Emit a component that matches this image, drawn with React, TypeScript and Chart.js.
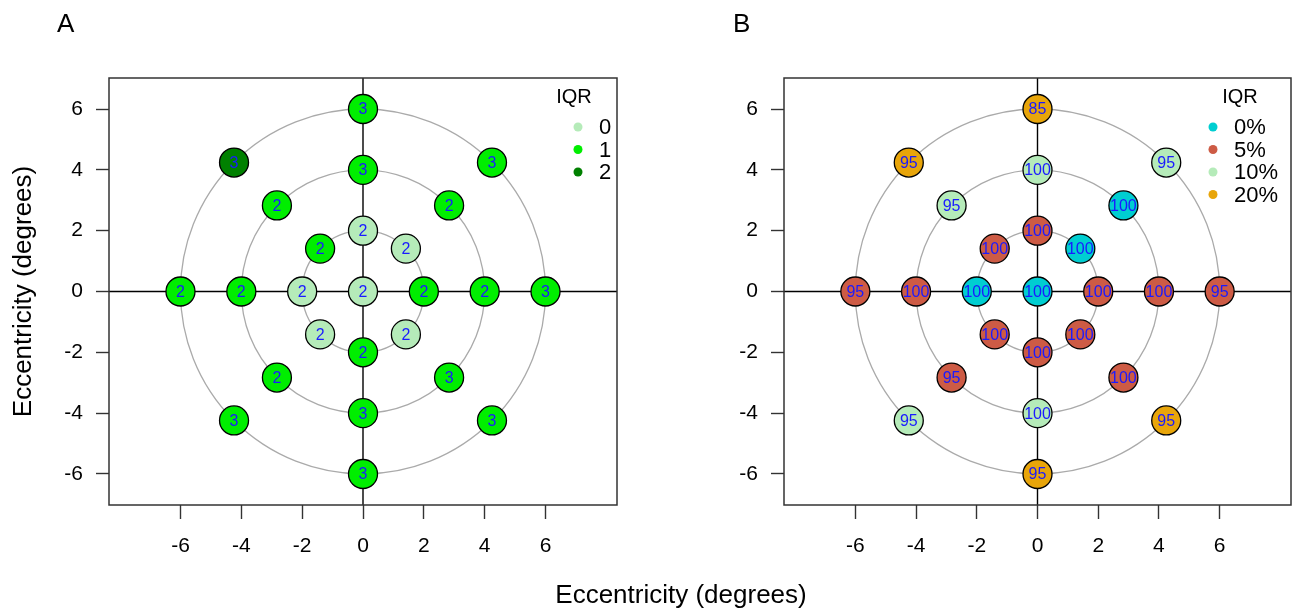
import React, { useEffect, useRef } from "react";
import { Chart, registerables } from "chart.js";
Chart.register(...registerables);

const FONT = "'Liberation Sans', Arial, Helvetica, sans-serif";

// Test locations (degrees): centre, then rings at 2, 4 and 6 degrees
const posX = [0, 0, 1.41, 2, 1.41, 0, -1.41, -2, -1.41, 0, 2.83, 4, 2.83, 0, -2.83, -4, -2.83, 0, 4.24, 6, 4.24, 0, -4.24, -6, -4.24];
const posY = [0, 2, 1.41, 0, -1.41, -2, -1.41, 0, 1.41, 4, 2.83, 0, -2.83, -4, -2.83, 0, 2.83, 6, 4.24, 0, -4.24, -6, -4.24, 0, 4.24];
const ringRadii = [2, 4, 6];
const tickValues = [-6, -4, -2, 0, 2, 4, 6];

// Panel A
const iqrLabelsA = ["0", "1", "2"];
const iqrColorsA = ["#b5ebb9", "#00ee00", "#008000"];
const iqrA = [0, 0, 0, 1, 0, 1, 0, 0, 1, 1, 1, 1, 1, 1, 1, 1, 1, 1, 1, 1, 1, 1, 1, 1, 2];
const valuesA = [2, 2, 2, 2, 2, 2, 2, 2, 2, 3, 2, 2, 3, 3, 2, 2, 2, 3, 3, 3, 3, 3, 3, 2, 3];

// Panel B
const iqrLabelsB = ["0%", "5%", "10%", "20%"];
const iqrColorsB = ["#00ced1", "#cd5b45", "#b5ebb9", "#e8a50a"];
const iqrB = [0, 1, 0, 1, 1, 1, 1, 0, 1, 2, 0, 1, 1, 2, 1, 1, 2, 3, 2, 1, 3, 3, 2, 1, 3];
const valuesB = [100, 100, 100, 100, 100, 100, 100, 100, 100, 100, 100, 100, 100, 100, 95, 100, 95, 85, 95, 95, 95, 95, 95, 95, 95];

type PanelProps = {
  iqr: number[];
  values: number[];
  labels: string[];
  colors: string[];
  yAxisWidth: number;
  padRight: number;
  showYTitle: boolean;
  legendDotOffset: number;
  legendTitleOffset: number;
};

function Panel({ iqr, values, labels, colors, yAxisWidth, padRight, showYTitle, legendDotOffset, legendTitleOffset }: PanelProps) {
  const ref = useRef<HTMLCanvasElement | null>(null);
  useEffect(() => {
    if (!ref.current) return;
    const decor = {
      id: "decor",
      beforeDatasetsDraw(chart: any) {
        const { ctx, chartArea } = chart;
        const xs = chart.scales.x;
        const ys = chart.scales.y;
        const cx = xs.getPixelForValue(0);
        const cy = ys.getPixelForValue(0);
        ctx.save();
        ctx.strokeStyle = "#aaaaaa";
        ctx.lineWidth = 1.3;
        ringRadii.forEach((r) => {
          const rx = Math.abs(xs.getPixelForValue(r) - cx);
          const ry = Math.abs(ys.getPixelForValue(r) - cy);
          ctx.beginPath();
          ctx.ellipse(cx, cy, rx, ry, 0, 0, Math.PI * 2);
          ctx.stroke();
        });
        ctx.strokeStyle = "#000";
        ctx.lineWidth = 1.4;
        ctx.beginPath();
        ctx.moveTo(cx, chartArea.top);
        ctx.lineTo(cx, chartArea.bottom);
        ctx.moveTo(chartArea.left, cy);
        ctx.lineTo(chartArea.right, cy);
        ctx.stroke();
        ctx.strokeStyle = "#333";
        ctx.lineWidth = 1.5;
        ctx.strokeRect(chartArea.left, chartArea.top, chartArea.right - chartArea.left, chartArea.bottom - chartArea.top);
        ctx.restore();
      },
      afterDatasetsDraw(chart: any) {
        const { ctx, chartArea } = chart;
        const meta = chart.getDatasetMeta(0);
        ctx.save();
        ctx.fillStyle = "#1a1aff";
        ctx.font = `16px ${FONT}`;
        ctx.textAlign = "center";
        ctx.textBaseline = "middle";
        meta.data.forEach((pt: any, i: number) => {
          ctx.fillText(String(values[i]), pt.x, pt.y + 1);
        });
        // legend
        const dotX = chartArea.right - legendDotOffset;
        const textX = dotX + 21;
        ctx.font = `20px ${FONT}`;
        ctx.textAlign = "center";
        ctx.fillStyle = "#000";
        ctx.fillText("IQR", chartArea.right - legendTitleOffset, chartArea.top + 19);
        ctx.font = `22px ${FONT}`;
        labels.forEach((l, i) => {
          const y = chartArea.top + 49 + i * 22.5;
          ctx.beginPath();
          ctx.fillStyle = colors[i];
          ctx.arc(dotX, y, 4.5, 0, Math.PI * 2);
          ctx.fill();
          ctx.fillStyle = "#000";
          ctx.textAlign = "left";
          ctx.fillText(l, textX, y + 1);
        });
        ctx.restore();
      },
    };
    const chart = new Chart(ref.current, {
      type: "scatter",
      data: {
        datasets: [
          {
            data: posX.map((x, i) => ({ x, y: posY[i] })),
            backgroundColor: iqr.map((k) => colors[k]),
            borderColor: "#000",
            borderWidth: 1.3,
            pointRadius: 14.5,
            pointHoverRadius: 14.5,
          },
        ],
      },
      options: {
        animation: false,
        responsive: false,
        maintainAspectRatio: false,
        events: [],
        layout: { autoPadding: false, padding: { left: 0, right: padRight, top: 78, bottom: 0 } },
        plugins: { legend: { display: false }, tooltip: { enabled: false } },
        scales: {
          x: {
            type: "linear",
            min: -8.35,
            max: 8.35,
            afterBuildTicks: (s: any) => {
              s.ticks = tickValues.map((v) => ({ value: v }));
            },
            afterFit: (s: any) => {
              s.height = 105;
            },
            grid: { drawOnChartArea: false, drawTicks: true, tickLength: 14, tickColor: "#333", tickWidth: 1.4 },
            border: { display: false },
            ticks: { padding: 15, font: { family: FONT, size: 21 }, color: "#000", maxRotation: 0, autoSkip: false },
          },
          y: {
            type: "linear",
            min: -7.02,
            max: 7.02,
            afterBuildTicks: (s: any) => {
              s.ticks = tickValues.map((v) => ({ value: v }));
            },
            afterFit: (s: any) => {
              s.width = yAxisWidth;
            },
            grid: { drawOnChartArea: false, drawTicks: true, tickLength: 13, tickColor: "#333", tickWidth: 1.4 },
            border: { display: false },
            ticks: { padding: 13, font: { family: FONT, size: 21 }, color: "#000", autoSkip: false },
            title: {
              display: showYTitle,
              text: "Eccentricity (degrees)",
              color: "#000",
              font: { family: FONT, size: 26 },
              padding: { top: 8, bottom: 0 },
            },
          },
        },
      },
      plugins: [decor],
    } as any);
    return () => chart.destroy();
  }, []);
  return <canvas ref={ref} width={647} height={610} style={{ width: 647, height: 610, display: "block" }} />;
}

export default function App() {
  const txt: React.CSSProperties = { position: "absolute", fontFamily: FONT, color: "#000", whiteSpace: "nowrap" };
  return (
    <div style={{ position: "absolute", left: 0, top: 0, width: 1294, height: 610, background: "#fff", overflow: "hidden" }}>
      <div style={{ position: "absolute", left: 0, top: 0 }}>
        <Panel iqr={iqrA} values={valuesA} labels={iqrLabelsA} colors={iqrColorsA} yAxisWidth={109} padRight={30} showYTitle={true} legendDotOffset={39} legendTitleOffset={43} />
      </div>
      <div style={{ position: "absolute", left: 647, top: 0 }}>
        <Panel iqr={iqrB} values={valuesB} labels={iqrLabelsB} colors={iqrColorsB} yAxisWidth={137} padRight={3} showYTitle={false} legendDotOffset={78} legendTitleOffset={51} />
      </div>
      <div style={{ ...txt, left: 57, top: 10, fontSize: 26, lineHeight: "26px" }}>A</div>
      <div style={{ ...txt, left: 733, top: 10, fontSize: 26, lineHeight: "26px" }}>B</div>
      <div style={{ ...txt, left: 681, top: 579, fontSize: 26, lineHeight: "30px", transform: "translateX(-50%)" }}>
        Eccentricity (degrees)
      </div>
    </div>
  );
}
